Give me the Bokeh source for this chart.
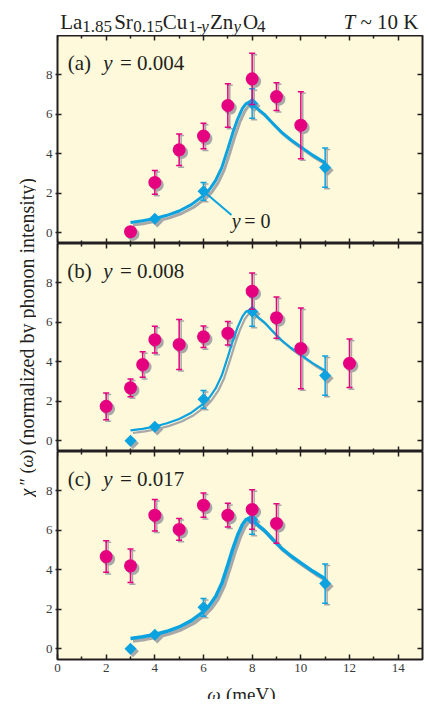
import math
from bokeh.plotting import figure
from bokeh.models import ColumnDataSource, LinearAxis, FixedTicker, Label
from bokeh.layouts import column, row
from bokeh.transform import dodge
from bokeh.embed import file_html
from bokeh.resources import INLINE

# ---------------- data ----------------
x_major = [0, 2, 4, 6, 8, 10, 12, 14]
x_minor = [1, 3, 5, 7, 9, 11, 13]
y_major = [0, 2, 4, 6, 8]

# y = 0 reference: fitted curve and measured points (same in all panels)
omega_fit = [3.0, 3.5, 4.0, 4.5, 5.0, 5.5, 6.0, 6.25, 6.5, 6.75, 7.0, 7.2, 7.4,
             7.6, 7.75, 7.9, 8.0, 8.2, 8.5, 8.8, 9.2, 9.6, 10.0, 10.5, 11.0]
chi_fit = [0.52, 0.6, 0.72, 0.88, 1.1, 1.42, 1.88, 2.2, 2.65, 3.3, 4.25, 5.05, 5.75,
           6.3, 6.55, 6.63, 6.58, 6.3, 6.0, 5.6, 5.1, 4.7, 4.35, 3.92, 3.55]
omega_y0 = [3, 4, 6, 8, 11]
chi_y0 = [0.0, 0.7, 2.1, 6.55, 3.3]
err_y0 = [0.0, 0.0, 0.45, 0.75, 1.0]

# (a) y = 0.004
omega_a = [3, 4, 5, 6, 7, 8, 9, 10]
chi_a = [0.05, 2.55, 4.2, 4.9, 6.45, 7.8, 6.9, 5.45]
err_a = [0.0, 0.6, 0.8, 0.65, 1.1, 1.3, 0.7, 1.7]

# (b) y = 0.008
omega_b = [2, 3, 3.5, 4, 5, 6, 7, 8, 9, 10, 12]
chi_b = [1.74, 2.68, 3.86, 5.12, 4.88, 5.27, 5.45, 7.58, 6.24, 4.68, 3.92]
err_b = [0.68, 0.45, 0.65, 0.68, 1.27, 0.55, 0.6, 0.92, 1.05, 2.05, 1.23]

# (c) y = 0.017
omega_c = [2, 3, 4, 5, 6, 7, 8, 9]
chi_c = [4.67, 4.2, 6.77, 6.05, 7.28, 6.77, 7.06, 6.35]
err_c = [0.8, 0.85, 0.8, 0.55, 0.62, 0.6, 1.0, 1.0]

panel_letters = ["(a)", "(b)", "(c)"]
panel_y_values = ["= 0.004", "= 0.008", "= 0.017"]

# ---------------- style ----------------
SERIF = "Liberation Serif"
PINK = "#E5007F"
BLUE = "#0AA3E0"
SHADOW = "#A8A8A8"
BG = "#FDF9DA"
INK = "#231F20"
TICKTXT = "#3A3A3A"
X_RANGE = (0, 15)
Y_RANGE = (-0.55, 10.0)
FRAME_W, FRAME_H = 365, 208
LEFT_B, RIGHT_B = 21, 2
TITLE_H, BOTTOM_B, XLAB_H, LAB_W = 35, 19, 21, 36
TOTAL_H = TITLE_H + 3 * FRAME_H + BOTTOM_B + XLAB_H
DX, DY = 0.1, -0.13


def hidden_axis(ticker, fixed, minor=True):
    return LinearAxis(ticker=ticker, axis_line_color=None, fixed_location=fixed,
                      major_tick_in=5, major_tick_out=0,
                      minor_tick_in=3 if minor else 0, minor_tick_out=0,
                      major_tick_line_color=INK, minor_tick_line_color=INK,
                      major_tick_line_width=1.5, minor_tick_line_width=1.5,
                      major_label_text_color=None, major_label_standoff=0)


def add_axes(p, bottom_labels):
    xt = FixedTicker(ticks=x_major, minor_ticks=x_minor)
    yt = FixedTicker(ticks=y_major, minor_ticks=[])
    p.add_layout(hidden_axis(xt, Y_RANGE[1]), "above")
    if bottom_labels:
        ax = LinearAxis(ticker=xt, axis_line_color=None,
                        major_tick_in=5, major_tick_out=0,
                        minor_tick_in=3, minor_tick_out=0,
                        major_tick_line_color=INK, minor_tick_line_color=INK,
                        major_tick_line_width=1.5, minor_tick_line_width=1.5,
                        major_label_text_font=SERIF, major_label_text_font_size="13px",
                        major_label_text_color=TICKTXT, major_label_standoff=4)
        p.add_layout(ax, "below")
    else:
        p.add_layout(hidden_axis(xt, Y_RANGE[0]), "below")
    left = LinearAxis(ticker=yt, axis_line_color=None,
                      major_tick_in=4, major_tick_out=2,
                      major_tick_line_color=INK, major_tick_line_width=1.5,
                      major_label_text_font=SERIF, major_label_text_font_size="13px",
                      major_label_text_color=TICKTXT, major_label_standoff=3)
    p.add_layout(left, "left")
    p.add_layout(hidden_axis(yt, X_RANGE[1], minor=False), "right")


def err_source(xs, ys, es):
    keep = [i for i, e in enumerate(es) if e > 0]
    return ColumnDataSource(dict(
        x=[xs[i] for i in keep],
        lo=[ys[i] - es[i] for i in keep],
        hi=[ys[i] + es[i] for i in keep]))


def draw_errors(p, src, color):
    p.segment(x0="x", y0="lo", x1="x", y1="hi", source=src, line_color=color, line_width=1.5)
    for key in ("lo", "hi"):
        p.scatter(x="x", y=key, source=src, marker="dash", size=6,
                  line_color=color, line_width=1.5)


def draw_error_shadows(p, src):
    p.segment(x0=dodge("x", DX * 0.8), y0=dodge("lo", DY * 0.6),
              x1=dodge("x", DX * 0.8), y1=dodge("hi", DY * 0.6),
              source=src, line_color=SHADOW, line_width=1.5)
    for key in ("lo", "hi"):
        p.scatter(x=dodge("x", DX * 0.8), y=dodge(key, DY * 0.6), source=src,
                  marker="dash", size=6, line_color=SHADOW, line_width=1.5)


def add_label(p, x, y, text, size, italic=False, align="left", color=INK, angle=0.0,
              baseline="alphabetic"):
    p.add_layout(Label(x=x, y=y, text=text, text_font=SERIF, text_font_size=size,
                       text_font_style="italic" if italic else "normal",
                       text_color=color, text_align=align, text_baseline=baseline,
                       angle=angle))


def strip_fig(w, h, left=0, right=0):
    # text strip whose frame lines up with the panel frames (pixel coordinates)
    f = figure(frame_width=w, frame_height=h, x_range=(0, w), y_range=(0, h),
               output_backend="svg", toolbar_location=None,
               x_axis_location=None, y_axis_location=None, min_border=0,
               min_border_left=left, min_border_right=right,
               min_border_top=0, min_border_bottom=0)
    f.xgrid.visible = False
    f.ygrid.visible = False
    f.outline_line_color = None
    f.background_fill_color = "white"
    f.border_fill_color = "white"
    return f


def make_panel(idx, om, chi, err, bottom, bottom_labels, curve_w):
    p = figure(frame_width=FRAME_W, frame_height=FRAME_H, x_range=X_RANGE, y_range=Y_RANGE,
               output_backend="svg", toolbar_location=None,
               x_axis_location=None, y_axis_location=None,
               min_border_left=LEFT_B, min_border_right=RIGHT_B,
               min_border_top=0, min_border_bottom=bottom)
    p.xgrid.visible = False
    p.ygrid.visible = False
    p.background_fill_color = BG
    p.border_fill_color = "white"
    p.outline_line_color = INK
    p.outline_line_width = 2
    add_axes(p, bottom_labels)

    fit_src = ColumnDataSource(dict(x=omega_fit, y=chi_fit))
    ref_src = ColumnDataSource(dict(x=omega_y0, y=chi_y0))
    ref_err = err_source(omega_y0, chi_y0, err_y0)
    pts_src = ColumnDataSource(dict(x=om, y=chi))
    pts_err = err_source(om, chi, err)

    # shadows
    p.line(x=dodge("x", DX), y=dodge("y", DY), source=fit_src, line_color=SHADOW,
           line_width=curve_w)
    draw_error_shadows(p, ref_err)
    draw_error_shadows(p, pts_err)
    p.scatter(x=dodge("x", DX), y=dodge("y", DY), source=ref_src, marker="square",
              angle=math.pi / 4, size=8.5, fill_color=SHADOW, line_color=None)
    p.scatter(x=dodge("x", DX), y=dodge("y", DY), source=pts_src, marker="circle",
              size=13, fill_color=SHADOW, line_color=None)

    # y = 0 reference
    p.line(x="x", y="y", source=fit_src, line_color=BLUE, line_width=curve_w)
    draw_errors(p, ref_err, BLUE)
    if idx == 0:
        p.segment(x0=[6.0], y0=[2.1], x1=[7.15], y1=[0.9], line_color=BLUE, line_width=2)
    p.scatter(x="x", y="y", source=ref_src, marker="square", angle=math.pi / 4,
              size=8.5, fill_color=BLUE, line_color=None)

    # Zn-doped data
    draw_errors(p, pts_err, PINK)
    p.scatter(x="x", y="y", source=pts_src, marker="circle", size=13,
              fill_color=PINK, line_color=None)

    # panel label
    add_label(p, 0.90, 8.63, panel_letters[idx], "21px", align="center")
    add_label(p, 1.88, 8.63, "y", "21px", italic=True)
    add_label(p, 5.21, 8.63, panel_y_values[idx], "21px", align="right")
    if idx == 0:
        add_label(p, 7.16, 0.58, "y", "20px", italic=True)
        add_label(p, 8.75, 0.58, "= 0", "20px", align="right")
    return p


pa = make_panel(0, omega_a, chi_a, err_a, 0, False, 3.0)
pb = make_panel(1, omega_b, chi_b, err_b, 0, False, 2.2)
pc = make_panel(2, omega_c, chi_c, err_c, BOTTOM_B, True, 3.5)

# title strip (chemical formula with subscripts); x = pixels from the frame's left edge
tt = strip_fig(FRAME_W, TITLE_H, LEFT_B, RIGHT_B)
TB, SB = 13.3, 9.0
for x, t, size, base, it in [
        (13.8, "La", "21px", TB, False), (39.7, "1.85", "17px", SB, False),
        (66.0, "Sr", "21px", TB, False), (90.5, "0.15", "17px", SB, False),
        (117.5, "Cu", "21px", TB, False), (137.8, "1-", "17px", SB, False),
        (147.6, "y", "17px", SB, True), (164.2, "Zn", "21px", TB, False),
        (179.7, "y", "17px", SB, True), (193.0, "O", "21px", TB, False),
        (203.8, "4", "17px", SB, False)]:
    add_label(tt, x, base, t, size, italic=it, align="center")
add_label(tt, 286, TB, "T", "21px", italic=True)
add_label(tt, 361, TB, "~ 10 K", "21px", align="right")

# x axis title strip
xl = strip_fig(FRAME_W, XLAB_H, LEFT_B, RIGHT_B)
add_label(xl, 149.7, 5, "ω", "19px", italic=True)
add_label(xl, 218, 5, "(meV)", "19px", align="right")

# y axis title (separate narrow canvas spanning all panels)
lab = strip_fig(LAB_W, TOTAL_H)
A = math.pi / 2
YB = 26
add_label(lab, YB, 203, "χ", "18px", italic=True, angle=A)
add_label(lab, YB, 214, "″", "18px", angle=A)
add_label(lab, YB, 226, "(", "18px", angle=A)
add_label(lab, YB, 232, "ω", "18px", italic=True, angle=A)
add_label(lab, YB, 244, ")", "18px", angle=A)
add_label(lab, YB, 254.3, "(normalized by phonon intensity)", "20px", angle=A)

layout = row(lab, column(tt, pa, pb, pc, xl, spacing=0), spacing=0)

with open("out.html", "w") as f:
    f.write(file_html(layout, INLINE))
